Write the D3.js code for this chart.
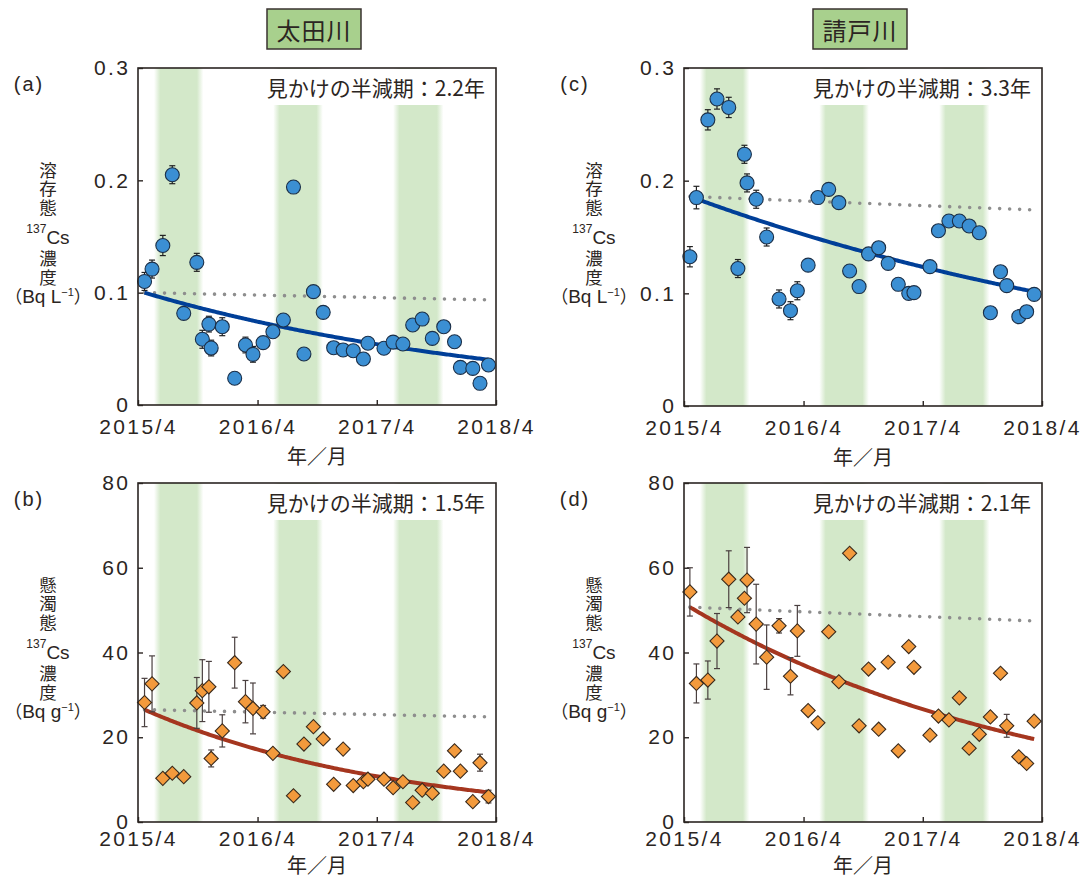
<!DOCTYPE html>
<html>
<head>
<meta charset="utf-8">
<script src="https://cdn.jsdelivr.net/npm/d3@7"></script>
<style>
  body { margin: 0; background: #fff; }
  svg { display: block; }
  text { fill: #2b2522; }
</style>
</head>
<body>
<svg id="chart" width="1085" height="877"></svg>
<script>
// ---------------- data ----------------
const riverNames = ["太田川", "請戸川"];

const xTickDates = ["2015-04-01", "2016-04-01", "2017-04-01", "2018-04-01"];
const xTickLabels = ["2015/4", "2016/4", "2017/4", "2018/4"];

const dissolvedTicks = [0, 0.1, 0.2, 0.3];
const dissolvedTickLabels = ["0", "0.1", "0.2", "0.3"];
const suspendedTicks = [0, 20, 40, 60, 80];
const suspendedTickLabels = ["0", "20", "40", "60", "80"];

// high-flow seasons (shaded)
const seasonStarts = ["2015-05-20", "2016-05-19", "2017-05-21"];
const seasonEnds   = ["2015-10-18", "2016-10-18", "2017-10-22"];

// 太田川 sampling dates
const otaDates = ["2015-04-21","2015-05-14","2015-06-16","2015-07-15","2015-08-19","2015-09-28","2015-10-15","2015-11-04","2015-11-11","2015-12-15","2016-01-22","2016-02-24","2016-03-18","2016-04-18","2016-05-18","2016-06-19","2016-07-20","2016-08-21","2016-09-19","2016-10-19","2016-11-20","2016-12-19","2017-01-19","2017-02-19","2017-03-05","2017-04-23","2017-05-21","2017-06-20","2017-07-20","2017-08-18","2017-09-18","2017-10-23","2017-11-25","2017-12-13","2018-01-20","2018-02-11","2018-03-09"];
// dissolved 137Cs (Bq/L)
const otaDissolved = [0.110,0.121,0.142,0.205,0.0816,0.127,0.0585,0.072,0.0507,0.0697,0.0238,0.0534,0.0451,0.0555,0.0652,0.0757,0.194,0.0454,0.1009,0.0825,0.051,0.049,0.0483,0.041,0.055,0.0505,0.056,0.0543,0.0712,0.0765,0.0593,0.0697,0.0563,0.0335,0.0326,0.0193,0.0356];
const otaDissolvedErr = [0.008,0.008,0.009,0.008,0,0.008,0.008,0.007,0.007,0.008,0,0.007,0.007,0,0,0,0,0,0,0,0,0,0,0,0,0,0,0,0,0,0,0,0,0,0,0,0];
// suspended 137Cs (Bq/g)
const otaSuspended = [28.2,32.6,10.3,11.5,10.7,28.1,31.0,31.9,15.0,21.5,37.6,28.4,26.8,26.0,16.2,35.5,6.2,18.4,22.5,19.6,8.9,17.2,8.6,9.5,10.1,10.1,8.1,9.5,4.6,7.5,6.8,12.0,16.8,12.0,4.8,14.0,6.0];
const otaSuspendedErr = [5.7,6.6,0,0,0,6.0,7.3,6.0,2.0,3.8,6.0,5.0,6.0,1.5,0,0,0,0,0,0,0,0,0,0,0,0,0,0,0,0,0,0,0,0,0,2.0,1.5];

// 請戸川 sampling dates
const ukedoDates = ["2015-04-19","2015-05-09","2015-06-13","2015-07-11","2015-08-16","2015-09-13","2015-10-03","2015-10-11","2015-11-08","2015-12-10","2016-01-17","2016-02-21","2016-03-13","2016-04-15","2016-05-15","2016-06-17","2016-07-18","2016-08-20","2016-09-18","2016-10-17","2016-11-17","2016-12-16","2017-01-16","2017-02-17","2017-03-05","2017-04-23","2017-05-19","2017-06-20","2017-07-22","2017-08-21","2017-09-21","2017-10-25","2017-11-25","2017-12-14","2018-01-20","2018-02-13","2018-03-08"];
const ukedoDissolved = [0.1325,0.185,0.254,0.2725,0.265,0.122,0.2234,0.198,0.1835,0.150,0.095,0.0846,0.1023,0.125,0.185,0.1923,0.1805,0.1198,0.106,0.135,0.1405,0.1266,0.108,0.100,0.1006,0.1237,0.1556,0.1642,0.1642,0.1598,0.1538,0.0828,0.1192,0.1068,0.0793,0.0837,0.0991];
const ukedoDissolvedErr = [0.009,0.010,0.009,0.009,0.009,0.008,0.008,0.008,0.008,0.008,0.008,0.008,0.008,0,0,0,0,0,0,0,0,0,0,0,0,0,0.004,0.004,0.004,0.004,0,0,0,0,0,0,0];
const ukedoSuspended = [54.3,32.7,33.5,42.7,57.3,48.4,52.8,57.1,46.7,38.9,46.3,34.4,45.1,26.3,23.4,44.9,33.1,63.4,22.7,36.1,21.9,37.7,16.8,41.4,36.5,20.5,25.0,24.1,29.3,17.4,20.7,24.8,35.1,22.7,15.4,13.8,23.8];
const ukedoSuspendedErr = [5.7,4.6,4.5,6.5,6.7,0,0,7.7,9.4,7.6,1.7,4.4,6.0,0,0,0,0,0,0,0,0,0,0,0,0,0,0,0,0,0,0,0,0,2.7,0,0,0];

// apparent half-lives (years) and fitted starting concentrations: a, b, c, d
const apparentHalfLife = [2.2, 1.5, 3.3, 2.1];
const fitStart = [0.100, 26.5, 0.186, 50.7];
const physicalHalfLife = 30.17; // 137Cs

// ---------------- drawing ----------------
const parse = d3.timeParse("%Y-%m-%d");
const svg = d3.select("#chart");
const NUM_FONT = "'Liberation Sans', Arial, 'Noto Sans CJK JP', sans-serif";
const JP_FONT = "'Noto Sans CJK JP', 'Liberation Sans', sans-serif";
const INK = "#2b2522";

const defs = svg.append("defs");
const grad = defs.append("linearGradient").attr("id", "seasonGrad")
  .attr("x1", "0").attr("x2", "1").attr("y1", "0").attr("y2", "0");
[[0, 0], [0.13, 1], [0.87, 1], [1, 0]].forEach(([o, a]) =>
  grad.append("stop").attr("offset", o).attr("stop-color", "#d3e8c9").attr("stop-opacity", a));

const dissolvedLabel = ["溶", "存", "態", "CS", "濃", "度", "UNIT"];
const suspendedLabel = ["懸", "濁", "態", "CS", "濃", "度", "UNIT"];

const panels = [
  { tag: "(a)", dates: otaDates,   values: otaDissolved,   errors: otaDissolvedErr,   ticks: dissolvedTicks, tickLabels: dissolvedTickLabels, yMax: 0.3, kind: "circle",  fit: 0, lines: dissolvedLabel, unit: "L", x0: 138, x1: 496, y0: 68,  y1: 405, pad: 14, titleGap: 50 },
  { tag: "(b)", dates: otaDates,   values: otaSuspended,   errors: otaSuspendedErr,   ticks: suspendedTicks, tickLabels: suspendedTickLabels, yMax: 80,  kind: "diamond", fit: 1, lines: suspendedLabel, unit: "g", x0: 138, x1: 496, y0: 483, y1: 822, pad: 9,  titleGap: 42 },
  { tag: "(c)", dates: ukedoDates, values: ukedoDissolved, errors: ukedoDissolvedErr, ticks: dissolvedTicks, tickLabels: dissolvedTickLabels, yMax: 0.3, kind: "circle",  fit: 2, lines: dissolvedLabel, unit: "L", x0: 684, x1: 1042, y0: 68, y1: 406, pad: 14, titleGap: 50 },
  { tag: "(d)", dates: ukedoDates, values: ukedoSuspended, errors: ukedoSuspendedErr, ticks: suspendedTicks, tickLabels: suspendedTickLabels, yMax: 80,  kind: "diamond", fit: 3, lines: suspendedLabel, unit: "g", x0: 684, x1: 1042, y0: 483, y1: 822, pad: 9,  titleGap: 42 }
];

const DAY = 86400000;

panels.forEach(p => {
  const g = svg.append("g");
  const x = d3.scaleTime().domain([parse(xTickDates[0]), parse(xTickDates[xTickDates.length - 1])]).range([p.x0, p.x1]);
  const y = d3.scaleLinear().domain([0, p.yMax]).range([p.y1, p.y0]);

  // shaded seasons
  g.append("g").selectAll("rect").data(seasonStarts).join("rect")
    .attr("x", (d) => x(parse(d)))
    .attr("width", (d, i) => x(parse(seasonEnds[i])) - x(parse(d)))
    .attr("y", p.y0).attr("height", p.y1 - p.y0)
    .attr("fill", "url(#seasonGrad)");

  // half-life annotation with white backing
  const annBg = g.append("g");
  const ann = g.append("text")
    .attr("x", p.x1 - 11).attr("y", p.y0 + 19)
    .attr("text-anchor", "end").attr("dominant-baseline", "central")
    .attr("font-family", JP_FONT).attr("font-size", 21)
    .text(`見かけの半減期：${apparentHalfLife[p.fit].toFixed(1)}年`);
  const bb = ann.node().getBBox();
  annBg.append("rect").attr("x", bb.x - 6).attr("y", p.y0 + 1)
    .attr("width", p.x1 - bb.x + 5).attr("height", 36).attr("fill", "#fff");

  // decay curves
  const d0 = parse(p.dates[0]), d1 = parse(p.dates[p.dates.length - 1]);
  const days = d3.range(0, (d1 - d0) / DAY + 1, 5).concat([(d1 - d0) / DAY]);
  const curve = (hl) => days.map(k => [new Date(+d0 + k * DAY), fitStart[p.fit] * Math.pow(2, -k / 365.25 / hl)]);
  const line = d3.line().x(d => x(d[0])).y(d => y(d[1]));

  g.append("path").attr("d", line(curve(physicalHalfLife)))
    .attr("fill", "none").attr("stroke", "#8e8e8e").attr("stroke-width", 3.6)
    .attr("stroke-linecap", "round").attr("stroke-dasharray", "0 10");

  g.append("path").attr("d", line(curve(apparentHalfLife[p.fit])))
    .attr("fill", "none")
    .attr("stroke", p.kind === "circle" ? "#003f98" : "#a5361f")
    .attr("stroke-width", 4);

  // error bars
  const pts = p.dates.map((d, i) => ({ date: parse(d), v: p.values[i], e: p.errors[i] })).filter(d => d.v != null);
  const eb = g.append("g").attr("stroke", p.kind === "circle" ? "#222" : "#4a4040").attr("stroke-width", 1.2);
  pts.filter(d => d.e > 0).forEach(d => {
    const cx = x(d.date);
    eb.append("line").attr("x1", cx).attr("x2", cx).attr("y1", y(d.v - d.e)).attr("y2", y(d.v + d.e));
    [d.v - d.e, d.v + d.e].forEach(v =>
      eb.append("line").attr("x1", cx - 3).attr("x2", cx + 3).attr("y1", y(v)).attr("y2", y(v)));
  });

  // markers
  if (p.kind === "circle") {
    g.append("g").selectAll("circle").data(pts).join("circle")
      .attr("cx", d => x(d.date)).attr("cy", d => y(d.v)).attr("r", 7)
      .attr("fill", "#3b8fd3").attr("stroke", "#1b2f48").attr("stroke-width", 1.1);
  } else {
    const sym = d3.symbol(d3.symbolSquare, 100);
    g.append("g").selectAll("path").data(pts).join("path")
      .attr("d", sym)
      .attr("transform", d => `translate(${x(d.date)},${y(d.v)}) rotate(45)`)
      .attr("fill", "#f39a3c").attr("stroke", "#3a2a1c").attr("stroke-width", 1.1);
  }

  // axes (inward ticks)
  const xAxis = d3.axisBottom(x).tickValues(xTickDates.map(parse))
    .tickFormat((d, i) => xTickLabels[i]).tickSize(-5).tickSizeOuter(0).tickPadding(p.pad);
  const xa = g.append("g").attr("transform", `translate(0,${p.y1})`).call(xAxis);
  const yAxis = d3.axisLeft(y).tickValues(p.ticks)
    .tickFormat((d, i) => p.tickLabels[i]).tickSize(-5).tickSizeOuter(0).tickPadding(10);
  const ya = g.append("g").attr("transform", `translate(${p.x0},0)`).call(yAxis);
  [xa, ya].forEach(a => {
    a.select(".domain").remove();
    a.selectAll("line").attr("stroke", INK).attr("stroke-width", 1.4);
    a.selectAll("text").attr("font-family", NUM_FONT).attr("font-size", 21)
      .attr("letter-spacing", "2.4px").attr("fill", INK);
  });
  ya.selectAll("text").attr("dx", "2.4px");

  // frame
  g.append("rect").attr("x", p.x0).attr("y", p.y0)
    .attr("width", p.x1 - p.x0).attr("height", p.y1 - p.y0)
    .attr("fill", "none").attr("stroke", INK).attr("stroke-width", 1.6);

  // x-axis title
  g.append("text").attr("x", (p.x0 + p.x1) / 2).attr("y", p.y1 + p.titleGap)
    .attr("text-anchor", "middle").attr("dominant-baseline", "central")
    .attr("font-family", JP_FONT).attr("font-size", 20).text("年／月");

  // panel tag
  g.append("text").attr("x", p.x0 - 109).attr("y", p.y0 + 16)
    .attr("text-anchor", "middle").attr("dominant-baseline", "central")
    .attr("font-family", NUM_FONT).attr("font-size", 20).attr("letter-spacing", "2px")
    .text(p.tag);

  // vertical y-axis title: one text block, one tspan row per line
  const lx = p.x0 - 90;
  const rows = [103, 121, 140, 166, 191, 210, 229];
  const title = g.append("text").attr("text-anchor", "middle")
    .attr("font-family", JP_FONT).attr("font-size", 17.5);
  p.lines.forEach((s, i) => {
    const base = p.y0 + rows[i] + 6;
    if (s === "CS") {
      const w = title.append("tspan").attr("x", lx).attr("y", base).attr("font-family", NUM_FONT);
      w.append("tspan").attr("font-size", 12).attr("dy", "-0.55em").text("137");
      w.append("tspan").attr("font-size", 19).attr("dy", "0.55em").text("Cs");
    } else if (s === "UNIT") {
      const w = title.append("tspan").attr("x", lx).attr("y", base);
      w.append("tspan").text("（");
      w.append("tspan").attr("font-family", NUM_FONT).attr("font-size", 19).text("Bq " + p.unit);
      w.append("tspan").attr("font-family", NUM_FONT).attr("font-size", 11).attr("dy", "-0.6em").text("−1");
      w.append("tspan").attr("dy", "0.38em").text("）");
    } else {
      title.append("tspan").attr("x", lx).attr("y", base).text(s);
    }
  });
});

// river headers
[panels[0], panels[2]].forEach((p, i) => {
  const cx = (p.x0 + p.x1) / 2 - 3;
  svg.append("rect").attr("x", cx - 47).attr("y", 9).attr("width", 94).attr("height", 40)
    .attr("fill", "#a8d08d").attr("stroke", "#3a3330").attr("stroke-width", 1.5);
  svg.append("text").attr("x", cx).attr("y", 29)
    .attr("text-anchor", "middle").attr("dominant-baseline", "central")
    .attr("font-family", JP_FONT).attr("font-size", 24).attr("letter-spacing", "1px")
    .text(riverNames[i]);
});
</script>
</body>
</html>
